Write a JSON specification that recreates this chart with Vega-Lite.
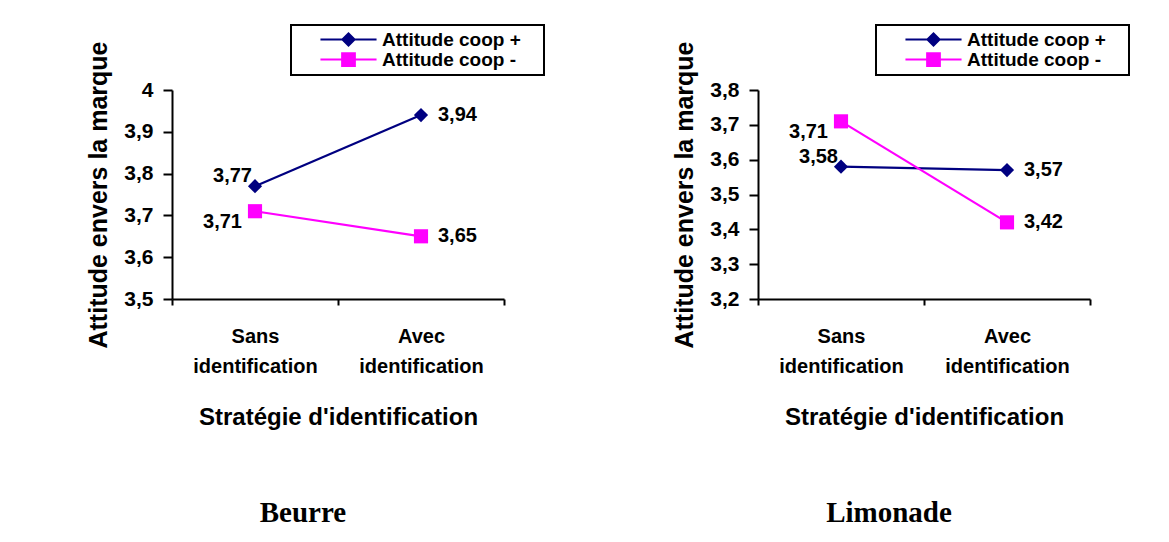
{
  "$schema": "https://vega.github.io/schema/vega-lite/v6.json",
  "background": "white",
  "padding": {"left": 86, "top": 24, "right": 0, "bottom": 0},
  "spacing": 127,
  "config": {
    "view": {"stroke": null},
    "locale": {"number": {"decimal": ",", "thousands": ".", "grouping": [3], "currency": ["", " €"]}},
    "font": "Liberation Sans"
  },
  "datasets": {
    "moyennes": [
      {"produit": "Beurre", "strategie": "Sans identification", "serie": "Attitude coop +", "valeur": 3.77},
      {"produit": "Beurre", "strategie": "Avec identification", "serie": "Attitude coop +", "valeur": 3.94},
      {"produit": "Beurre", "strategie": "Sans identification", "serie": "Attitude coop -", "valeur": 3.71},
      {"produit": "Beurre", "strategie": "Avec identification", "serie": "Attitude coop -", "valeur": 3.65},
      {"produit": "Limonade", "strategie": "Sans identification", "serie": "Attitude coop +", "valeur": 3.58},
      {"produit": "Limonade", "strategie": "Avec identification", "serie": "Attitude coop +", "valeur": 3.57},
      {"produit": "Limonade", "strategie": "Sans identification", "serie": "Attitude coop -", "valeur": 3.71},
      {"produit": "Limonade", "strategie": "Avec identification", "serie": "Attitude coop -", "valeur": 3.42}
    ]
  },
  "resolve": {
    "scale": {"x": "independent", "y": "independent", "color": "independent"},
    "legend": {"color": "independent"}
  },
  "hconcat": [
    {
      "width": 332,
      "height": 209,
      "data": {"name": "moyennes"},
      "transform": [{"filter": "datum.produit == 'Beurre'"}],
      "title": {"text": "Beurre", "orient": "bottom", "anchor": "middle", "frame": "group", "dx": -35, "offset": 70, "font": "Liberation Serif", "fontSize": 29, "fontWeight": "bold", "color": "black"},
      "encoding": {
        "x": {
          "field": "strategie", "type": "nominal",
          "sort": ["Sans identification", "Avec identification"],
          "scale": {"type": "band", "paddingInner": 0, "paddingOuter": 0},
          "axis": {
            "title": "Stratégie d'identification", "labelExpr": "split(datum.label, ' ')", "labelAngle": 0,
            "tickBand": "extent", "grid": false,
            "domainColor": "black", "domainWidth": 2, "tickColor": "black", "tickWidth": 2, "tickSize": 6,
            "labelFont": "Liberation Sans", "labelFontSize": 20, "labelFontWeight": "bold", "labelColor": "black",
            "labelLineHeight": 30, "labelPadding": 21,
            "titleFont": "Liberation Sans", "titleFontSize": 24, "titleFontWeight": "bold", "titleColor": "black", "titlePadding": 29
          }
        },
        "y": {
          "field": "valeur", "type": "quantitative",
          "scale": {"domain": [3.5, 4], "zero": false, "nice": false},
          "axis": {
            "title": "Attitude envers la marque", "tickCount": 5, "format": "~r", "grid": false,
            "domainColor": "black", "domainWidth": 2, "tickColor": "black", "tickWidth": 2, "tickSize": 9,
            "labelFont": "Liberation Sans", "labelFontSize": 21, "labelFontWeight": "bold", "labelColor": "black", "labelPadding": 10,
            "titleFont": "Liberation Sans", "titleFontSize": 25, "titleFontWeight": "bold", "titleColor": "black", "titlePadding": 12
          }
        },
        "color": {
          "field": "serie", "type": "nominal",
          "scale": {"domain": ["Attitude coop +", "Attitude coop -"], "range": ["#000080", "#ff00ff"]},
          "legend": {
            "title": " ", "titleOrient": "right", "titlePadding": 18,
            "orient": "none", "legendX": 119, "legendY": -65,
            "padding": 5, "strokeColor": "black", "fillColor": "white",
            "labelFont": "Liberation Sans", "labelFontSize": 19, "labelFontWeight": "bold", "labelColor": "black",
            "symbolSize": 289, "symbolStrokeWidth": 2, "symbolOffset": 43, "labelOffset": 24, "rowPadding": -2,
            "encode": {
              "legend": {"update": {"strokeWidth": {"value": 2}}},
              "symbols": {"update": {
                "shape": {"signal": "datum.value == 'Attitude coop +' ? 'M-3.3,0H3.3M-0.72,0L0,-0.72L0.72,0L0,0.72Z' : 'M-3.3,0H3.3M-0.75,-0.75H0.75V0.75H-0.75Z'"},
                "fill": {"signal": "datum.value == 'Attitude coop +' ? '#000080' : '#ff00ff'"},
                "stroke": {"signal": "datum.value == 'Attitude coop +' ? '#000080' : '#ff00ff'"},
                "strokeWidth": {"value": 2},
                "opacity": {"value": 1}
              }}
            }
          }
        }
      },
      "layer": [
        {"mark": {"type": "line", "strokeWidth": 2.2}},
        {
          "transform": [{"filter": "datum.serie == 'Attitude coop +'"}],
          "mark": {"type": "point", "shape": "diamond", "filled": true, "size": 200, "opacity": 1}
        },
        {
          "transform": [{"filter": "datum.serie == 'Attitude coop -'"}],
          "mark": {"type": "point", "shape": "square", "filled": true, "size": 200, "opacity": 1}
        },
        {
          "transform": [{"filter": "datum.strategie == 'Avec identification'"}],
          "mark": {"type": "text", "align": "left", "baseline": "middle", "dx": 17, "font": "Liberation Sans", "fontSize": 20, "fontWeight": "bold"},
          "encoding": {"text": {"field": "valeur", "type": "quantitative", "format": ".2f"}, "color": {"value": "black"}}
        },
        {
          "transform": [{"filter": "datum.strategie == 'Sans identification' && datum.serie == 'Attitude coop +'"}],
          "mark": {"type": "text", "align": "right", "baseline": "middle", "dx": -3, "dy": -10, "font": "Liberation Sans", "fontSize": 20, "fontWeight": "bold"},
          "encoding": {"text": {"field": "valeur", "type": "quantitative", "format": ".2f"}, "color": {"value": "black"}}
        },
        {
          "transform": [{"filter": "datum.strategie == 'Sans identification' && datum.serie == 'Attitude coop -'"}],
          "mark": {"type": "text", "align": "right", "baseline": "middle", "dx": -13, "dy": 11, "font": "Liberation Sans", "fontSize": 20, "fontWeight": "bold"},
          "encoding": {"text": {"field": "valeur", "type": "quantitative", "format": ".2f"}, "color": {"value": "black"}}
        }
      ]
    },
    {
      "width": 332,
      "height": 209,
      "data": {"name": "moyennes"},
      "transform": [{"filter": "datum.produit == 'Limonade'"}],
      "title": {"text": "Limonade", "orient": "bottom", "anchor": "middle", "frame": "group", "dx": -35, "offset": 70, "font": "Liberation Serif", "fontSize": 29, "fontWeight": "bold", "color": "black"},
      "encoding": {
        "x": {
          "field": "strategie", "type": "nominal",
          "sort": ["Sans identification", "Avec identification"],
          "scale": {"type": "band", "paddingInner": 0, "paddingOuter": 0},
          "axis": {
            "title": "Stratégie d'identification", "labelExpr": "split(datum.label, ' ')", "labelAngle": 0,
            "tickBand": "extent", "grid": false,
            "domainColor": "black", "domainWidth": 2, "tickColor": "black", "tickWidth": 2, "tickSize": 6,
            "labelFont": "Liberation Sans", "labelFontSize": 20, "labelFontWeight": "bold", "labelColor": "black",
            "labelLineHeight": 30, "labelPadding": 21,
            "titleFont": "Liberation Sans", "titleFontSize": 24, "titleFontWeight": "bold", "titleColor": "black", "titlePadding": 29
          }
        },
        "y": {
          "field": "valeur", "type": "quantitative",
          "scale": {"domain": [3.2, 3.8], "zero": false, "nice": false},
          "axis": {
            "title": "Attitude envers la marque", "tickCount": 6, "format": "~r", "grid": false,
            "domainColor": "black", "domainWidth": 2, "tickColor": "black", "tickWidth": 2, "tickSize": 9,
            "labelFont": "Liberation Sans", "labelFontSize": 21, "labelFontWeight": "bold", "labelColor": "black", "labelPadding": 10,
            "titleFont": "Liberation Sans", "titleFontSize": 25, "titleFontWeight": "bold", "titleColor": "black", "titlePadding": 12
          }
        },
        "color": {
          "field": "serie", "type": "nominal",
          "scale": {"domain": ["Attitude coop +", "Attitude coop -"], "range": ["#000080", "#ff00ff"]},
          "legend": {
            "title": " ", "titleOrient": "right", "titlePadding": 18,
            "orient": "none", "legendX": 118, "legendY": -65,
            "padding": 5, "strokeColor": "black", "fillColor": "white",
            "labelFont": "Liberation Sans", "labelFontSize": 19, "labelFontWeight": "bold", "labelColor": "black",
            "symbolSize": 289, "symbolStrokeWidth": 2, "symbolOffset": 43, "labelOffset": 24, "rowPadding": -2,
            "encode": {
              "legend": {"update": {"strokeWidth": {"value": 2}}},
              "symbols": {"update": {
                "shape": {"signal": "datum.value == 'Attitude coop +' ? 'M-3.3,0H3.3M-0.72,0L0,-0.72L0.72,0L0,0.72Z' : 'M-3.3,0H3.3M-0.75,-0.75H0.75V0.75H-0.75Z'"},
                "fill": {"signal": "datum.value == 'Attitude coop +' ? '#000080' : '#ff00ff'"},
                "stroke": {"signal": "datum.value == 'Attitude coop +' ? '#000080' : '#ff00ff'"},
                "strokeWidth": {"value": 2},
                "opacity": {"value": 1}
              }}
            }
          }
        }
      },
      "layer": [
        {"mark": {"type": "line", "strokeWidth": 2.2}},
        {
          "transform": [{"filter": "datum.serie == 'Attitude coop +'"}],
          "mark": {"type": "point", "shape": "diamond", "filled": true, "size": 200, "opacity": 1}
        },
        {
          "transform": [{"filter": "datum.serie == 'Attitude coop -'"}],
          "mark": {"type": "point", "shape": "square", "filled": true, "size": 200, "opacity": 1}
        },
        {
          "transform": [{"filter": "datum.strategie == 'Avec identification'"}],
          "mark": {"type": "text", "align": "left", "baseline": "middle", "dx": 17, "font": "Liberation Sans", "fontSize": 20, "fontWeight": "bold"},
          "encoding": {"text": {"field": "valeur", "type": "quantitative", "format": ".2f"}, "color": {"value": "black"}}
        },
        {
          "transform": [{"filter": "datum.strategie == 'Sans identification' && datum.serie == 'Attitude coop +'"}],
          "mark": {"type": "text", "align": "right", "baseline": "middle", "dx": -3, "dy": -10, "font": "Liberation Sans", "fontSize": 20, "fontWeight": "bold"},
          "encoding": {"text": {"field": "valeur", "type": "quantitative", "format": ".2f"}, "color": {"value": "black"}}
        },
        {
          "transform": [{"filter": "datum.strategie == 'Sans identification' && datum.serie == 'Attitude coop -'"}],
          "mark": {"type": "text", "align": "right", "baseline": "middle", "dx": -13, "dy": 11, "font": "Liberation Sans", "fontSize": 20, "fontWeight": "bold"},
          "encoding": {"text": {"field": "valeur", "type": "quantitative", "format": ".2f"}, "color": {"value": "black"}}
        }
      ]
    }
  ]
}
